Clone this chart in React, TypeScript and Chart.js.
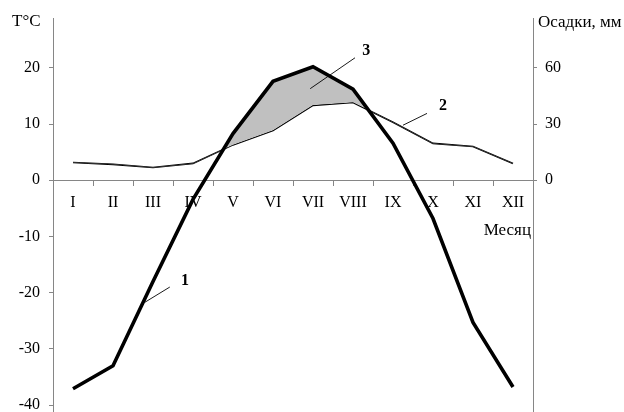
import React, { useEffect, useRef } from 'react';
import { Chart, registerables } from 'chart.js';

Chart.register(...registerables);

const months = ['I', 'II', 'III', 'IV', 'V', 'VI', 'VII', 'VIII', 'IX', 'X', 'XI', 'XII'];
const temperature = [-37.1, -33.0, -18.0, -3.4, 8.3, 17.6, 20.2, 16.2, 6.6, -6.8, -25.3, -36.8];
const precipitation = [9.5, 8.5, 6.8, 9.0, 18.9, 26.6, 40.0, 41.5, 31.0, 19.7, 18.0, 9.0];
const leftTicks = [-40, -30, -20, -10, 0, 10, 20];
const rightTicks = [0, 30, 60];
const leftTitle = 'T°C';
const rightTitle = 'Осадки, мм';
const xTitle = 'Месяц';

// callouts: [categoryIndex, temperatureValue]
const callouts = [
  { text: '1', from: [1.8, -21.7], to: [2.42, -19.0], at: [2.8, -17.9] },
  { text: '2', from: [8.25, 9.8], to: [8.85, 11.9], at: [9.25, 13.3] },
  { text: '3', from: [5.93, 16.3], to: [7.05, 21.8], at: [7.33, 23.1] },
];

const FONT = '"Liberation Serif", "Times New Roman", serif';
const AXIS = '#868686';

const overlay = {
  id: 'overlay',
  afterDatasetsDraw(chart: any) {
    const { ctx, chartArea, scales } = chart;
    const x = scales.x;
    const y = scales.y;
    ctx.save();
    ctx.strokeStyle = '#000';
    ctx.lineWidth = 0.9;
    ctx.fillStyle = '#000';
    callouts.forEach((c) => {
      ctx.beginPath();
      ctx.moveTo(x.getPixelForValue(c.from[0]), y.getPixelForValue(c.from[1]));
      ctx.lineTo(x.getPixelForValue(c.to[0]), y.getPixelForValue(c.to[1]));
      ctx.stroke();
      ctx.font = 'bold 16px ' + FONT;
      ctx.textAlign = 'center';
      ctx.textBaseline = 'middle';
      ctx.fillText(c.text, x.getPixelForValue(c.at[0]), y.getPixelForValue(c.at[1]));
    });
    ctx.font = '17px ' + FONT;
    ctx.textBaseline = 'middle';
    ctx.textAlign = 'left';
    ctx.fillText(leftTitle, 12, chartArea.top + 4);
    ctx.fillText(rightTitle, chartArea.right + 5, chartArea.top + 5);
    ctx.textAlign = 'right';
    ctx.fillText(xTitle, chartArea.right - 2, y.getPixelForValue(0) + 50);
    ctx.restore();
  },
};

const noPad = (s: any) => {
  s.paddingTop = 0;
  s.paddingBottom = 0;
};

export default function App() {
  const ref = useRef<HTMLCanvasElement | null>(null);
  useEffect(() => {
    if (!ref.current) return;
    Chart.defaults.font.family = FONT;
    Chart.defaults.font.size = 16;
    Chart.defaults.color = '#000';
    const chart = new Chart(ref.current, {
      type: 'line',
      data: {
        labels: months,
        datasets: [
          {
            label: 'Температура',
            data: temperature,
            yAxisID: 'y',
            borderColor: '#000',
            borderWidth: 3.6,
            pointRadius: 0,
            tension: 0,
            fill: { target: 1, above: '#c0c0c0', below: 'rgba(0,0,0,0)' },
          },
          {
            label: 'Осадки',
            data: precipitation,
            yAxisID: 'y1',
            borderColor: '#000',
            borderWidth: 1.6,
            pointRadius: 0,
            tension: 0,
            fill: false,
          },
        ],
      },
      options: {
        animation: false,
        responsive: true,
        maintainAspectRatio: false,
        layout: { padding: { top: 18, bottom: 0, left: 0, right: 0 } },
        plugins: { legend: { display: false }, tooltip: { enabled: false } },
        scales: {
          x: {
            type: 'category',
            position: { y: 0 } as any,
            offset: true,
            afterFit: (s: any) => {
              s.height = 0;
              s.paddingLeft = 0;
              s.paddingRight = 0;
            },
            grid: { display: true, offset: true, drawOnChartArea: false, drawTicks: true, tickLength: 5, color: AXIS },
            border: { display: true, color: AXIS, width: 1 },
            ticks: { padding: 8, maxRotation: 0, autoSkip: false, color: '#000', font: { size: 16, family: FONT } },
          },
          y: {
            type: 'linear',
            position: 'left',
            min: -41.24,
            max: 28.88,
            afterBuildTicks: (s: any) => {
              s.ticks = leftTicks.map((v) => ({ value: v }));
            },
            afterFit: (s: any) => {
              s.width = 53;
              noPad(s);
            },
            grid: { display: true, drawOnChartArea: false, drawTicks: true, tickLength: 4, color: AXIS },
            border: { display: true, color: AXIS, width: 1 },
            ticks: { padding: 9, color: '#000', font: { size: 16, family: FONT } },
          },
          y1: {
            type: 'linear',
            position: 'right',
            min: -123.72,
            max: 86.64,
            afterBuildTicks: (s: any) => {
              s.ticks = rightTicks.map((v) => ({ value: v }));
            },
            afterFit: (s: any) => {
              s.width = 91;
              noPad(s);
            },
            grid: { display: true, drawOnChartArea: false, drawTicks: true, tickLength: 4, color: AXIS },
            border: { display: true, color: AXIS, width: 1 },
            ticks: { padding: 8, color: '#000', font: { size: 16, family: FONT } },
          },
        },
      },
      plugins: [overlay],
    });
    return () => chart.destroy();
  }, []);
  return (
    <div style={{ position: 'fixed', left: 0, top: 0, width: 624, height: 412, background: '#fff' }}>
      <canvas ref={ref} />
    </div>
  );
}
